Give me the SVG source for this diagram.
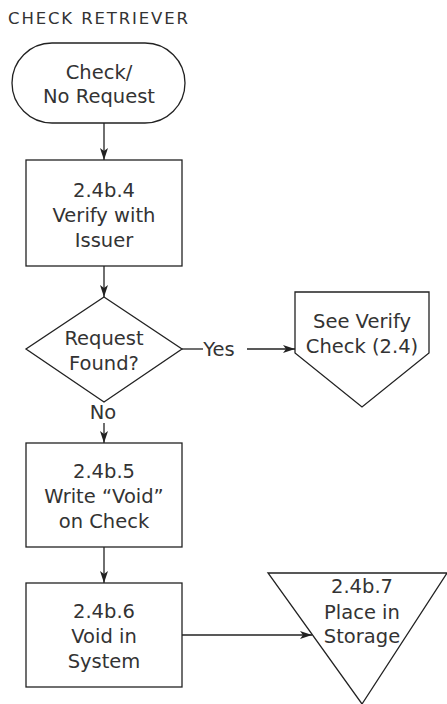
<svg xmlns="http://www.w3.org/2000/svg" width="447" height="704" viewBox="0 0 447 704">
<style>
.shape{fill:#fff;stroke:#222;stroke-width:1.3}
.ln{fill:none;stroke:#222;stroke-width:1.3}
text{font-family:"DejaVu Sans","Liberation Sans",sans-serif;font-size:19.5px;fill:#333;text-anchor:middle}
.title{font-size:16.5px;text-anchor:start}
</style>
<defs>
<marker id="arr" viewBox="0 0 12 8" refX="12" refY="4" markerWidth="12" markerHeight="8" markerUnits="userSpaceOnUse" orient="auto">
<path d="M0,0 L12,4 L0,8 L3,4 Z" fill="#222"/>
</marker>
</defs>
<text class="title" x="8" y="24" textLength="180" lengthAdjust="spacing">CHECK RETRIEVER</text>
<g id="connectors">
<line class="ln" x1="104" y1="123" x2="104" y2="160" marker-end="url(#arr)"/>
<line class="ln" x1="104" y1="266" x2="104" y2="297" marker-end="url(#arr)"/>
<line class="ln" x1="182" y1="349" x2="203" y2="349"/>
<line class="ln" x1="247" y1="349" x2="295" y2="349" marker-end="url(#arr)"/>
<line class="ln" x1="104" y1="423" x2="104" y2="443" marker-end="url(#arr)"/>
<line class="ln" x1="104" y1="547" x2="104" y2="583" marker-end="url(#arr)"/>
<line class="ln" x1="182" y1="635" x2="312" y2="635" marker-end="url(#arr)"/>
<text x="219" y="356">Yes</text>
<text x="103" y="419">No</text>
</g>
<g id="start">
<rect class="shape" x="12" y="43" width="173" height="80" rx="40" ry="40"/>
<text x="99" y="79">Check/</text>
<text x="99" y="103">No Request</text>
</g>
<g id="verify">
<rect class="shape" x="26" y="160" width="156" height="106"/>
<text x="104" y="197">2.4b.4</text>
<text x="104" y="222">Verify with</text>
<text x="104" y="247">Issuer</text>
</g>
<g id="decision">
<polygon class="shape" points="104,297 182,349 104,402 26,349"/>
<text x="104" y="345">Request</text>
<text x="104" y="370">Found?</text>
</g>
<g id="offpage">
<polygon class="shape" points="295,292 429,292 429,353 362,407 295,353"/>
<text x="362" y="328">See Verify</text>
<text x="362" y="353">Check (2.4)</text>
</g>
<g id="write-void">
<rect class="shape" x="26" y="443" width="156" height="104"/>
<text x="104" y="478">2.4b.5</text>
<text x="104" y="503">Write “Void”</text>
<text x="104" y="528">on Check</text>
</g>
<g id="void-system">
<rect class="shape" x="26" y="583" width="156" height="104"/>
<text x="104" y="618">2.4b.6</text>
<text x="104" y="643">Void in</text>
<text x="104" y="668">System</text>
</g>
<g id="storage">
<polygon class="shape" points="268,573 447,573 362,704"/>
<text x="362" y="593">2.4b.7</text>
<text x="362" y="619">Place in</text>
<text x="362" y="643">Storage</text>
</g>
</svg>
